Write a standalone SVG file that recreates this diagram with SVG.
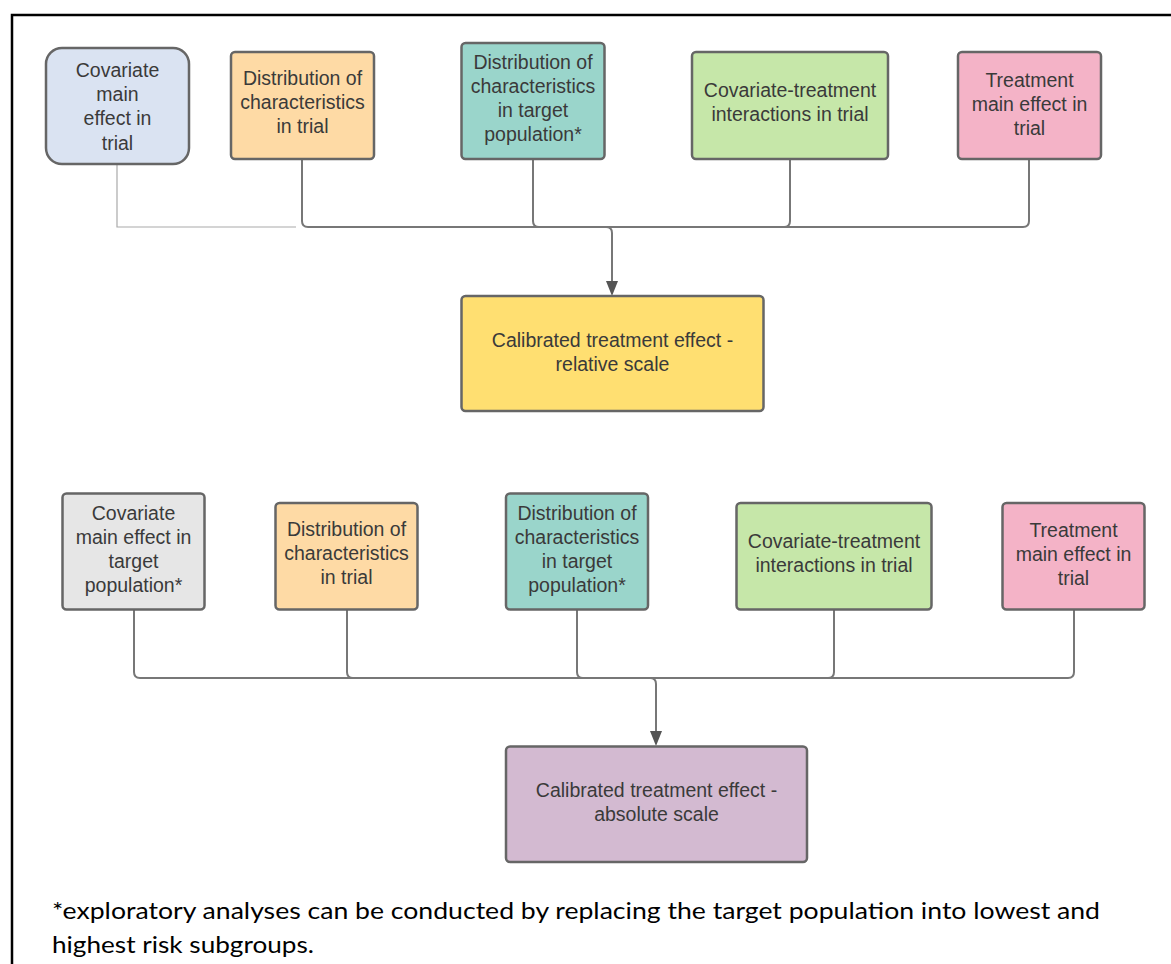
<svg xmlns="http://www.w3.org/2000/svg" width="1171" height="964" viewBox="0 0 1171 964">
<style>
.n{stroke:#666;stroke-width:2.5}
.t{font-family:"Liberation Sans",Arial,sans-serif;font-size:19.5px;fill:#3a3a3a;text-anchor:middle}
.c{fill:none;stroke:#777;stroke-width:2}
.cl{fill:none;stroke:#aaa;stroke-width:1.2}
.f{font-family:Lato,"Open Sans",sans-serif;font-size:23.5px;fill:#000}
</style>
<rect x="0" y="0" width="1171" height="964" fill="#fff"/>
<path d="M12,964 V15 H1171" fill="none" stroke="#000" stroke-width="2.5"/>

<g id="connectors">
<path class="cl" d="M117,164 V227 H296"/>
<path class="c" d="M302,159 V221 Q302,227 308,227 H1023 Q1029,227 1029,221 V159"/>
<path class="c" d="M533,159 V221 Q533,227 539,227"/>
<path class="c" d="M790,159 V221 Q790,227 784,227"/>
<path class="c" d="M606,227 Q612,227 612,233 V281"/>
<path d="M606,281 L618,281 L612,296 Z" fill="#555"/>

<path class="c" d="M134,609 V672 Q134,678 140,678 H1068 Q1074,678 1074,672 V609"/>
<path class="c" d="M347,609 V672 Q347,678 353,678"/>
<path class="c" d="M577,609 V672 Q577,678 583,678"/>
<path class="c" d="M834,609 V672 Q834,678 828,678"/>
<path class="c" d="M650,678 Q656,678 656,684 V731"/>
<path d="M650,731 L662,731 L656,746 Z" fill="#555"/>
</g>

<g id="n1"><rect class="n" x="46" y="48" width="143" height="116" rx="16" fill="#dae3f2" stroke="#777"/>
<text class="t"><tspan x="117.5" y="77">Covariate</tspan><tspan x="117.5" y="101">main</tspan><tspan x="117.5" y="125">effect in</tspan><tspan x="117.5" y="150">trial</tspan></text></g>
<g id="n2"><rect class="n" x="231" y="52" width="143" height="107" rx="4" fill="#fedaa5"/>
<text class="t"><tspan x="302.5" y="85">Distribution of</tspan><tspan x="302.5" y="109">characteristics</tspan><tspan x="302.5" y="133">in trial</tspan></text></g>
<g id="n3"><rect class="n" x="461.5" y="43" width="143" height="116" rx="4" fill="#9ad5cb"/>
<text class="t"><tspan x="533" y="69">Distribution of</tspan><tspan x="533" y="93">characteristics</tspan><tspan x="533" y="117">in target</tspan><tspan x="533" y="141">population*</tspan></text></g>
<g id="n4"><rect class="n" x="692" y="52" width="196" height="107" rx="4" fill="#c6e7a9"/>
<text class="t"><tspan x="790" y="97">Covariate-treatment</tspan><tspan x="790" y="121">interactions in trial</tspan></text></g>
<g id="n5"><rect class="n" x="958" y="52" width="143" height="107" rx="4" fill="#f4b3c7"/>
<text class="t"><tspan x="1029.5" y="87">Treatment</tspan><tspan x="1029.5" y="111">main effect in</tspan><tspan x="1029.5" y="135">trial</tspan></text></g>
<g id="n6"><rect class="n" x="461.5" y="296" width="302" height="115" rx="4" fill="#ffdf71"/>
<text class="t"><tspan x="612.5" y="347">Calibrated treatment effect -</tspan><tspan x="612.5" y="371">relative scale</tspan></text></g>

<g id="n7"><rect class="n" x="62.5" y="493.5" width="142" height="116" rx="4" fill="#e6e6e6"/>
<text class="t"><tspan x="133.5" y="520">Covariate</tspan><tspan x="133.5" y="544">main effect in</tspan><tspan x="133.5" y="568">target</tspan><tspan x="133.5" y="592">population*</tspan></text></g>
<g id="n8"><rect class="n" x="275.5" y="503" width="142" height="106.5" rx="4" fill="#fedaa5"/>
<text class="t"><tspan x="346.5" y="536">Distribution of</tspan><tspan x="346.5" y="560">characteristics</tspan><tspan x="346.5" y="584">in trial</tspan></text></g>
<g id="n9"><rect class="n" x="506" y="493.5" width="142" height="116" rx="4" fill="#9ad5cb"/>
<text class="t"><tspan x="577" y="520">Distribution of</tspan><tspan x="577" y="544">characteristics</tspan><tspan x="577" y="568">in target</tspan><tspan x="577" y="592">population*</tspan></text></g>
<g id="n10"><rect class="n" x="736.5" y="503" width="195" height="106.5" rx="4" fill="#c6e7a9"/>
<text class="t"><tspan x="834" y="548">Covariate-treatment</tspan><tspan x="834" y="572">interactions in trial</tspan></text></g>
<g id="n11"><rect class="n" x="1002.5" y="503" width="142" height="106.5" rx="4" fill="#f4b3c7"/>
<text class="t"><tspan x="1073.5" y="537">Treatment</tspan><tspan x="1073.5" y="561">main effect in</tspan><tspan x="1073.5" y="585">trial</tspan></text></g>
<g id="n12"><rect class="n" x="506" y="746.5" width="301" height="115.5" rx="4" fill="#d3bad1"/>
<text class="t"><tspan x="656.5" y="797">Calibrated treatment effect -</tspan><tspan x="656.5" y="821">absolute scale</tspan></text></g>

<text class="f" x="52" y="919" textLength="1048" lengthAdjust="spacingAndGlyphs">*exploratory analyses can be conducted by replacing the target population into lowest and</text>
<text class="f" x="52" y="953" textLength="262" lengthAdjust="spacingAndGlyphs">highest risk subgroups.</text>
</svg>
